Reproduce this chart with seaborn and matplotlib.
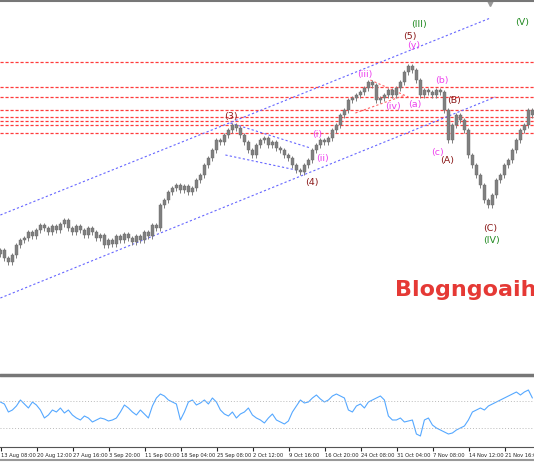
import matplotlib
matplotlib.use("Agg")
import matplotlib.pyplot as plt
import seaborn as sns
import numpy as np
import pandas as pd

sns.set_style("white")
plt.rcParams['font.family'] = ['DejaVu Sans']

# closes in chart-level units (screen-like, inverted axis), one per bar
closes = [250,258,262,255,245,240,238,232,236,230,
          225,228,232,226,230,224,220,228,232,226,
          230,235,228,232,238,235,245,240,244,236,
          240,234,238,242,236,240,232,236,225,228,
          205,200,192,188,185,190,186,192,188,180,
          175,165,158,150,140,142,135,130,125,128,
          135,142,150,155,145,140,138,145,142,148,
          150,155,158,165,170,172,165,160,150,145,
          140,142,138,130,125,115,110,100,98,95,
          92,88,82,85,100,98,95,90,95,88,
          82,72,66,70,80,95,90,92,95,90,
          92,110,140,125,115,120,130,155,165,175,
          185,200,205,195,180,175,165,160,150,140,
          130,125,110,115]
rsi = [402,404,412,410,406,400,404,408,402,405,
       410,418,415,410,412,408,413,410,415,418,
       420,416,418,422,420,418,419,421,420,418,
       412,405,408,412,415,410,414,418,406,398,
       394,396,400,402,404,420,412,402,400,405,
       403,400,404,398,402,410,414,416,412,418,
       414,412,408,415,418,420,423,418,414,420,
       422,424,421,412,406,400,403,402,398,395,
       399,402,400,396,394,396,398,410,412,406,
       404,408,402,400,398,396,400,416,420,420,
       418,422,421,420,434,436,420,418,425,428,
       430,432,434,433,430,428,426,420,412,410,
       408,410,406,404,402,400,398,396,394,392,
       395,392,390,398]
tick_labels = ["13 Aug 08:00","20 Aug 12:00","27 Aug 16:00","3 Sep 20:00","11 Sep 00:00",
               "18 Sep 04:00","25 Sep 08:00","2 Oct 12:00","9 Oct 16:00","16 Oct 20:00",
               "24 Oct 08:00","31 Oct 04:00","7 Nov 08:00","14 Nov 12:00","21 Nov 16:00"]
hlevels = [62, 87, 97, 110, 117, 121, 125, 133]
labels = [("(5)",409,36,"#8b1a1a"),("(III)",419,25,"#228b22"),("(y)",413,45,"#ee44ee"),
          ("(iii)",364,74,"#ee44ee"),("(iv)",393,107,"#ee44ee"),("(a)",414,104,"#ee44ee"),
          ("(b)",441,80,"#ee44ee"),("(B)",454,101,"#8b1a1a"),("(c)",437,152,"#ee44ee"),
          ("(A)",447,160,"#8b1a1a"),("(C)",490,229,"#8b1a1a"),("(IV)",491,241,"#228b22"),
          ("(V)",522,22,"#228b22"),("(3)",231,117,"#8b1a1a"),("(4)",311,183,"#8b1a1a"),
          ("(i)",317,134,"#ee44ee"),("(ii)",322,158,"#ee44ee")]

W, H = 534, 462
fig = plt.figure(figsize=(W/100, H/100), dpi=100)
ax = fig.add_axes([0, 1-372/H, 1, 372/H])
ax2 = fig.add_axes([0, (H-447)/H, 1, 67/H])
px = 4.0  # pixels per bar
n = len(closes)
xs = np.arange(n)
ax.set_xlim(-0.1, W/px - 0.1)
ax.set_ylim(372, 0)
opens = [closes[0]+4] + closes[:-1]
for y in hlevels:
    ax.axhline(y, color="#ff3b3b", ls=(0, (2.5, 1.5)), lw=0.9, zorder=1)
for i in range(n):
    o, c = opens[i], closes[i]
    lo, hi = min(o, c), max(o, c)
    ax.vlines(i, lo-2.5, hi+2.5, color="#7f7f7f", lw=0.7, zorder=3)
    ax.bar(i, max(hi-lo, 0.8), bottom=lo, width=0.6, color="#808080",
           edgecolor="#6a6a6a", lw=0.3, zorder=3)
blue = "#6666ff"
def seg(x0, y0, x1, y1, col=blue):
    ax.plot([x0/px, x1/px], [y0, y1], color=col, ls=(0, (2, 2)), lw=0.8, zorder=2)
seg(0, 215, 490, 18)
seg(0, 298, 495, 97)
seg(230, 123, 310, 148)
seg(225, 155, 305, 172)
seg(355, 113, 405, 95, "#ff6666")
seg(370, 80, 408, 97, "#ff6666")
ax.plot([490/px], [3], marker="v", color="#999999", ms=4)
for t, x, y, col in labels:
    ax.text(x/px, y, t, color=col, fontsize=6.8, ha="center", va="center", zorder=4)
ax.text(395/px, 290, "Blogngoaihoi", color="#e53935", fontsize=16, fontweight="bold",
        ha="left", va="center", clip_on=True)
ax.set_xticks([]); ax.set_yticks([])
for s in ax.spines.values():
    s.set_visible(False)
ax.axhline(0.5, color="#777777", lw=1.5)

df = pd.DataFrame({"bar": xs, "rsi": rsi})
sns.lineplot(data=df, x="bar", y="rsi", ax=ax2, color="#55a8ff", lw=0.8)
ax2.set_xlim(-0.1, W/px - 0.1)
ax2.set_ylim(447, 380)
for y in (401, 428):
    ax2.axhline(y, color="#bbbbbb", ls=(0, (1, 2)), lw=0.7)
ticks = [0.25 + 9*k for k in range(len(tick_labels))]
ax2.set_xticks(ticks)
ax2.set_xticklabels(tick_labels, fontsize=3.7, ha="left", color="#222222")
ax2.tick_params(axis="x", length=3, pad=1, direction="out", bottom=True)
ax2.set_yticks([]); ax2.set_xlabel(""); ax2.set_ylabel("")
for k, s in ax2.spines.items():
    s.set_visible(k == "bottom")
ax2.spines["bottom"].set_color("#555555")
fig.add_artist(plt.Line2D([0, 1], [1-375/H, 1-375/H], color="#777777", lw=2.5))
fig.add_artist(plt.Line2D([0, 1], [1-460/H, 1-460/H], color="#999999", lw=1.5))
fig.savefig("out.png", dpi=100)
